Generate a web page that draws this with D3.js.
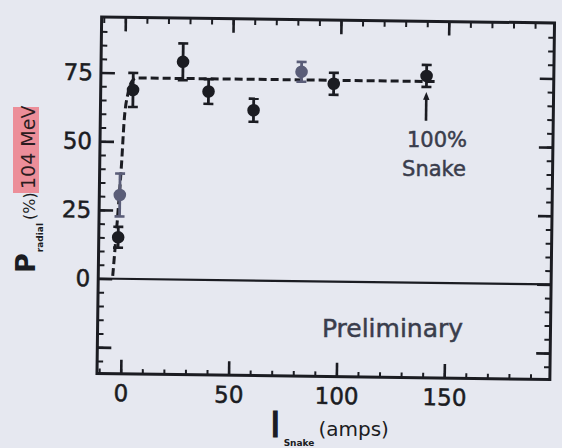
<!DOCTYPE html>
<html>
<head>
<meta charset="utf-8">
<script src="https://cdn.jsdelivr.net/npm/d3@7"></script>
<style>
  html, body { margin: 0; padding: 0; background: #e6e8f0; }
  svg { display: block; }
</style>
</head>
<body>
<svg id="chart" width="562" height="448"></svg>
<script>
// Radial polarization at 104 MeV versus snake solenoid current
const currents     = [-2, -1.5, 4, 27, 39, 60, 82, 97, 140];
const polarization = [15.1, 30.5, 68.8, 79.3, 68.6, 62.0, 76.2, 72.0, 75.3];
const errors       = [3.8, 7.8, 6.2, 6.7, 4.5, 4.2, 3.6, 4.0, 4.0];
const pointTone    = ["dark", "grey", "dark", "dark", "dark", "dark", "grey", "dark", "dark"];

// Dashed expectation curve (rise then plateau)
const fitCurrents     = [-4.3, -2.4, -0.8, 0, 1.7, 3.5, 5.6, 145];
const fitPolarization = [1.0, 22.5, 43.2, 56.8, 67.7, 72.0, 73.2, 73.3];

// Axis ticks
const xMajorTicks = [0, 50, 100, 150];
const xMinorTicks = d3.range(-10, 200, 10);
const yMajorTicks = [-25, 0, 25, 50, 75];
const yTickLabels = [0, 25, 50, 75];
const yMinorTicks = d3.range(-30, 95, 5);

// Full-snake marker
const snakeCurrent = 140;
const snakeArrow = [59, 69.5];

const svg = d3.select("#chart");
svg.append("rect").attr("width", 562).attr("height", 448).attr("fill", "#e6e8f0");

const x = d3.scaleLinear().domain([-11, 199]).range([99.3, 552.2]);
const y = d3.scaleLinear().domain([-34.6, 95.2]).range([376.5, 20]);

const ink = "#1b1c22";
const fontTicks = "'DejaVu Sans', Arial, sans-serif";

// the printed frame sits slightly askew on the page
const g = svg.append("g").attr("transform", "rotate(0.75 325.5 198.5)");

function styleAxis(sel, width) {
  sel.select(".domain").remove();
  sel.selectAll(".tick line").attr("stroke", ink).attr("stroke-width", width);
  sel.selectAll(".tick text")
    .attr("fill", ink)
    .attr("stroke", ink)
    .attr("stroke-width", 0.5)
    .style("font-family", fontTicks)
    .style("font-size", "23px");
}

const [x0, x1] = x.range();
const [yb, yt] = y.range();

// minor ticks on all four sides
g.append("g").attr("transform", `translate(${x0},0)`)
  .call(d3.axisLeft(y).tickValues(yMinorTicks).tickSize(-6).tickFormat(""))
  .call(s => styleAxis(s, 2));
g.append("g").attr("transform", `translate(${x1},0)`)
  .call(d3.axisRight(y).tickValues(yMinorTicks).tickSize(-6).tickFormat(""))
  .call(s => styleAxis(s, 2));
g.append("g").attr("transform", `translate(0,${yb})`)
  .call(d3.axisBottom(x).tickValues(xMinorTicks).tickSize(-5).tickFormat(""))
  .call(s => styleAxis(s, 2));
g.append("g").attr("transform", `translate(0,${yt})`)
  .call(d3.axisTop(x).tickValues(xMinorTicks).tickSize(-6).tickFormat(""))
  .call(s => styleAxis(s, 2));

// major ticks with labels
g.append("g").attr("transform", `translate(${x0},0)`)
  .call(d3.axisLeft(y).tickValues(yMajorTicks).tickSize(-14).tickPadding(8)
    .tickFormat(d => yTickLabels.includes(d) ? d : ""))
  .call(s => styleAxis(s, 2.6));
g.append("g").attr("transform", `translate(${x1},0)`)
  .call(d3.axisRight(y).tickValues(yMajorTicks).tickSize(-14).tickFormat(""))
  .call(s => styleAxis(s, 2.6));
g.append("g").attr("transform", `translate(0,${yb})`)
  .call(d3.axisBottom(x).tickValues(xMajorTicks).tickSize(-14).tickPadding(11))
  .call(s => styleAxis(s, 2.6));
g.append("g").attr("transform", `translate(0,${yt})`)
  .call(d3.axisTop(x).tickValues(xMajorTicks).tickSize(-14).tickFormat(""))
  .call(s => styleAxis(s, 2.6));

// frame
g.append("rect")
  .attr("x", x0).attr("y", yt)
  .attr("width", x1 - x0).attr("height", yb - yt)
  .attr("fill", "none").attr("stroke", ink).attr("stroke-width", 3);

// zero line
g.append("line")
  .attr("x1", x0).attr("x2", x1)
  .attr("y1", y(0)).attr("y2", y(0))
  .attr("stroke", ink).attr("stroke-width", 2.2);

// dashed curve
const fitData = fitCurrents.map((c, i) => [c, fitPolarization[i]]);
g.append("path")
  .datum(fitData)
  .attr("fill", "none")
  .attr("stroke", ink)
  .attr("stroke-width", 3)
  .attr("stroke-dasharray", "8,4")
  .attr("d", d3.line().x(d => x(d[0])).y(d => y(d[1])).curve(d3.curveMonotoneX));

// data points with error bars
const pts = currents.map((c, i) => ({
  c, p: polarization[i], e: errors[i],
  col: pointTone[i] === "grey" ? "#5a5d78" : ink
}));
const pg = g.append("g").selectAll("g").data(pts).join("g");
pg.append("line")
  .attr("x1", d => x(d.c)).attr("x2", d => x(d.c))
  .attr("y1", d => y(d.p - d.e)).attr("y2", d => y(d.p + d.e))
  .attr("stroke", d => d.col).attr("stroke-width", 2.8);
pg.selectAll(".cap")
  .data(d => [d.p - d.e, d.p + d.e].map(v => ({ c: d.c, v, col: d.col })))
  .join("line")
  .attr("class", "cap")
  .attr("x1", d => x(d.c) - 5).attr("x2", d => x(d.c) + 5)
  .attr("y1", d => y(d.v)).attr("y2", d => y(d.v))
  .attr("stroke", d => d.col).attr("stroke-width", 2.6);
pg.append("circle")
  .attr("cx", d => x(d.c)).attr("cy", d => y(d.p))
  .attr("r", 6.3).attr("fill", d => d.col);

// arrow under the full-snake point
const ax = x(snakeCurrent);
g.append("line")
  .attr("x1", ax).attr("x2", ax)
  .attr("y1", y(snakeArrow[0])).attr("y2", y(snakeArrow[1]) + 5)
  .attr("stroke", ink).attr("stroke-width", 2.6);
g.append("path")
  .attr("d", `M${ax},${y(snakeArrow[1])} L${ax - 3.2},${y(snakeArrow[1]) + 8} L${ax + 3.2},${y(snakeArrow[1]) + 8} Z`)
  .attr("fill", ink);

// annotations
const noteInk = "#3a3d4c";
function note(tx, ty, size, label) {
  svg.append("text").attr("x", tx).attr("y", ty).attr("text-anchor", "middle")
    .style("font-family", fontTicks).style("font-size", size + "px")
    .attr("fill", noteInk).attr("stroke", noteInk).attr("stroke-width", 0.5)
    .text(label);
}
note(437, 147, 21, "100%");
note(434, 176, 21, "Snake");
note(392.5, 337, 25, "Preliminary");

// x-axis title
const xt = svg.append("text").attr("x", 270).attr("y", 437)
  .style("font-family", fontTicks).attr("fill", ink);
xt.append("tspan").style("font-size", "36px")
  .attr("stroke", ink).attr("stroke-width", 1.2).text("I");
xt.append("tspan").attr("dx", 3).attr("dy", 9)
  .style("font-size", "9px").style("font-weight", "bold").text("Snake");
xt.append("tspan").attr("dx", 4).attr("dy", -10)
  .style("font-size", "20px").text("(amps)");

// y-axis title
const yl = svg.append("g").attr("transform", "translate(35,273) rotate(-90)");
yl.append("rect").attr("x", 80).attr("y", -22).attr("width", 86).attr("height", 26)
  .attr("fill", "#ec8e99");
const yt2 = yl.append("text").attr("x", 0).attr("y", 0)
  .style("font-family", fontTicks).attr("fill", ink);
yt2.append("tspan").style("font-size", "27px").style("font-weight", "bold").text("P");
yt2.append("tspan").attr("dx", 1).attr("dy", 8)
  .style("font-size", "9px").style("font-weight", "bold").text("radial");
yt2.append("tspan").attr("dx", 3).attr("dy", -8)
  .style("font-size", "16px").text("(%)");
yl.append("text").attr("x", 84).attr("y", 0)
  .style("font-family", fontTicks).style("font-size", "19px").attr("fill", "#2a1c20")
  .text("104 MeV");
</script>
</body>
</html>
